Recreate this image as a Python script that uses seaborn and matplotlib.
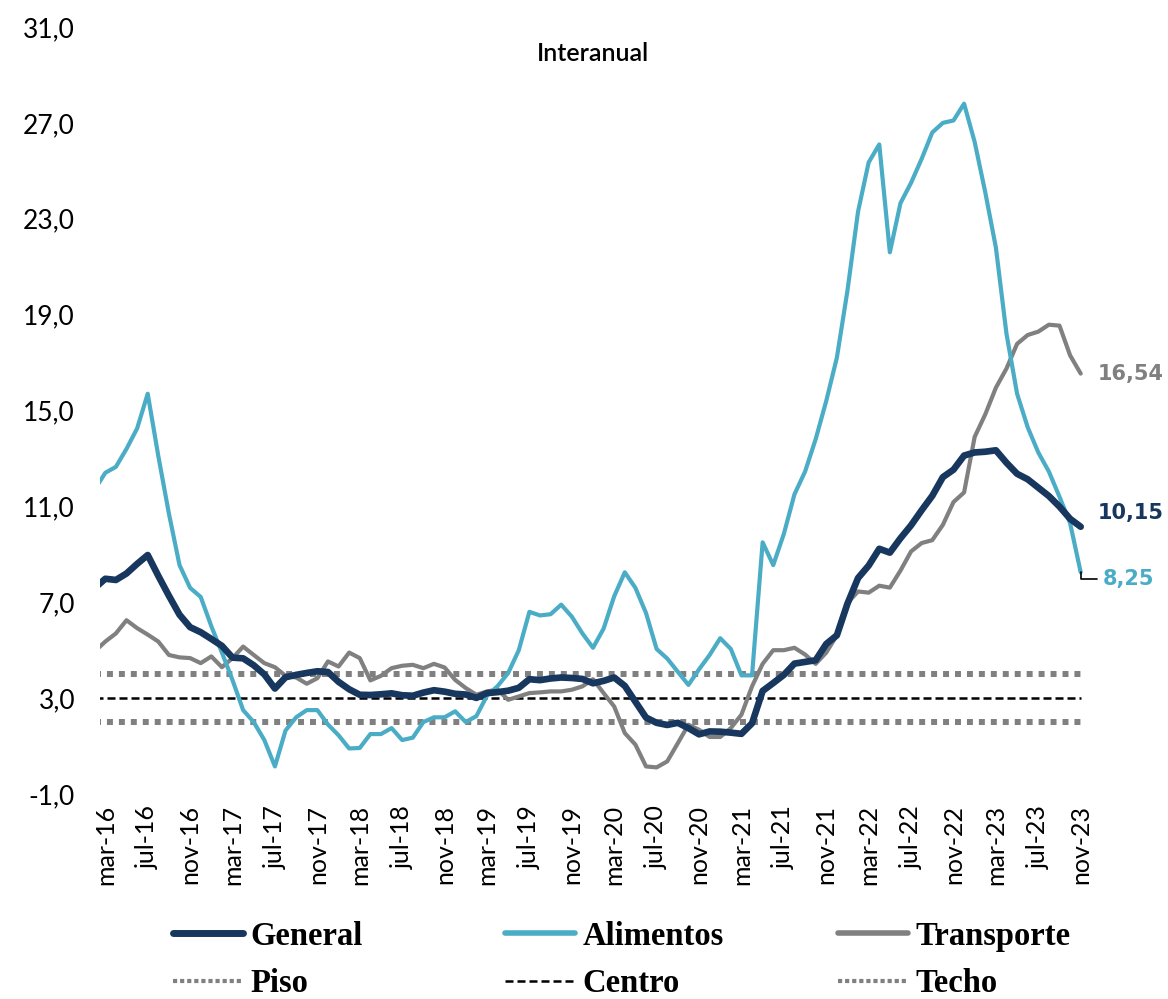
import numpy as np
import pandas as pd
import matplotlib
matplotlib.use('Agg')
import matplotlib.pyplot as plt
from matplotlib.lines import Line2D
import seaborn as sns

# Inflación anual (%) feb-16 .. nov-23
meses = ['ene', 'feb', 'mar', 'abr', 'may', 'jun', 'jul', 'ago', 'sep', 'oct', 'nov', 'dic']
fechas = pd.date_range('2016-02-01', '2023-11-01', freq='MS')
etiquetas = [f"{meses[d.month - 1]}-{d.strftime('%y')}" for d in fechas]

general = [7.59, 7.98, 7.93, 8.20, 8.60, 8.97, 8.10, 7.27, 6.48, 5.96, 5.75,
           5.47, 5.18, 4.69, 4.66, 4.37, 3.99, 3.40, 3.87, 3.97, 4.05, 4.12, 4.09,
           3.68, 3.37, 3.14, 3.13, 3.16, 3.20, 3.12, 3.10, 3.23, 3.33, 3.27, 3.18,
           3.15, 3.01, 3.21, 3.25, 3.31, 3.43, 3.79, 3.75, 3.82, 3.86, 3.84, 3.80,
           3.62, 3.72, 3.86, 3.51, 2.85, 2.19, 1.97, 1.88, 1.97, 1.75, 1.49, 1.61,
           1.60, 1.56, 1.51, 1.95, 3.30, 3.63, 3.97, 4.44, 4.51, 4.58, 5.26, 5.62,
           6.94, 8.01, 8.53, 9.23, 9.07, 9.67, 10.21, 10.84, 11.44, 12.22, 12.53, 13.12,
           13.25, 13.28, 13.34, 12.82, 12.36, 12.13, 11.78, 11.43, 10.99, 10.48, 10.15]

alimentos = [11.7, 12.4, 12.65, 13.4, 14.25, 15.7, 13.1, 10.7, 8.55, 7.6, 7.22,
             6.0, 4.9, 3.75, 2.5, 2.0, 1.25, 0.15, 1.65, 2.2, 2.5, 2.5, 1.9,
             1.45, 0.9, 0.92, 1.5, 1.5, 1.75, 1.25, 1.35, 2.0, 2.2, 2.2, 2.45,
             2.0, 2.25, 3.1, 3.5, 4.05, 5.0, 6.6, 6.45, 6.5, 6.9, 6.4, 5.7,
             5.1, 5.9, 7.25, 8.25, 7.6, 6.55, 5.05, 4.65, 4.1, 3.55, 4.2, 4.8,
             5.5, 5.05, 3.95, 3.95, 9.5, 8.55, 9.85, 11.5, 12.45, 13.8, 15.4, 17.2,
             20.0, 23.3, 25.35, 26.1, 21.6, 23.65, 24.5, 25.5, 26.6, 27.0, 27.1, 27.8,
             26.2, 24.1, 21.8, 18.2, 15.7, 14.3, 13.25, 12.45, 11.4, 10.3, 8.25]

transporte = [4.95, 5.36, 5.7, 6.25, 5.92, 5.65, 5.36, 4.8, 4.7, 4.67, 4.46,
              4.74, 4.29, 4.67, 5.15, 4.8, 4.46, 4.29, 3.93, 3.86, 3.6, 3.83, 4.53,
              4.32, 4.9, 4.67, 3.74, 3.93, 4.25, 4.35, 4.39, 4.25, 4.43, 4.28, 3.76,
              3.42, 3.14, 3.28, 3.35, 2.93, 3.07, 3.21, 3.24, 3.28, 3.28, 3.35, 3.49,
              3.79, 3.21, 2.65, 1.54, 1.06, 0.15, 0.11, 0.36, 1.12, 1.89, 1.68, 1.38,
              1.38, 1.75, 2.31, 3.49, 4.43, 5.0, 5.0, 5.1, 4.82, 4.43, 4.9, 5.62,
              6.97, 7.45, 7.4, 7.69, 7.61, 8.32, 9.12, 9.47, 9.59, 10.23, 11.18, 11.58,
              13.9, 14.84, 15.95, 16.75, 17.78, 18.15, 18.29, 18.58, 18.54, 17.3, 16.54]

piso, centro, techo = 2.0, 3.0, 4.0

df = pd.DataFrame({'pos': np.arange(len(fechas)), 'General': general,
                   'Alimentos': alimentos, 'Transporte': transporte})
df['Piso'] = piso
df['Centro'] = centro
df['Techo'] = techo

sns.set_style('white')
plt.rcParams['font.family'] = ['Lato', 'DejaVu Sans']

c_gen = '#17375E'
c_ali = '#4BACC6'
c_tra = '#808080'

fig = plt.figure(figsize=(11.68, 9.99), dpi=100)
ax = fig.add_axes([100 / 1168, 205 / 999, 986 / 1168, 767 / 999])

dot = (0, (1, 1))
dash = (0, (3.2, 1.6))
sns.lineplot(data=df, x='pos', y='Piso', ax=ax, color=c_tra, lw=4.3, linestyle=dot)
sns.lineplot(data=df, x='pos', y='Techo', ax=ax, color=c_tra, lw=4.3, linestyle=dot)
sns.lineplot(data=df, x='pos', y='Centro', ax=ax, color='black', lw=1.8, linestyle=dash)
sns.lineplot(data=df, x='pos', y='Transporte', ax=ax, color=c_tra, lw=3.0,
             solid_joinstyle='round', solid_capstyle='round')
sns.lineplot(data=df, x='pos', y='Alimentos', ax=ax, color=c_ali, lw=3.0,
             solid_joinstyle='round', solid_capstyle='round')
sns.lineplot(data=df, x='pos', y='General', ax=ax, color=c_gen, lw=4.8,
             solid_joinstyle='round', solid_capstyle='round')

ax.set_xlim(0.5, len(fechas) - 0.5)
ax.set_ylim(-1, 31)
yt = np.arange(-1, 32, 4)
ax.set_yticks(yt)
ax.set_yticklabels([f'{v:.1f}'.replace('.', ',') for v in yt], fontsize=19)
xt = list(range(1, len(fechas), 4))
ax.set_xticks(xt)
ax.set_xticklabels([etiquetas[i] for i in xt], rotation=90, fontsize=18)
ax.tick_params(axis='y', length=0, pad=18, labelcolor='black')
ax.tick_params(axis='x', length=0, pad=8, labelcolor='black')
ax.set_xlabel('')
ax.set_ylabel('')
sns.despine(ax=ax, left=True, bottom=True)

ax.text(0.5, 0.966, 'Interanual', transform=ax.transAxes, ha='center', va='center',
        fontsize=18, fontweight='semibold', color='black')

# etiquetas del ultimo dato
last = len(fechas) - 1
ax.annotate(f'{transporte[-1]:.2f}'.replace('.', ','), xy=(last, transporte[-1]),
            xytext=(12, 0), textcoords='offset points', va='center', ha='left',
            fontsize=15, fontweight='bold', color=c_tra, family='DejaVu Sans')
ax.annotate(f'{general[-1]:.2f}'.replace('.', ','), xy=(last, general[-1]),
            xytext=(12, 10), textcoords='offset points', va='center', ha='left',
            fontsize=15, fontweight='bold', color=c_gen, family='DejaVu Sans')
ax.annotate(f'{alimentos[-1]:.2f}'.replace('.', ','), xy=(last, alimentos[-1]),
            xytext=(16, -4.5), textcoords='offset points', va='center', ha='left',
            fontsize=15, fontweight='bold', color=c_ali, family='DejaVu Sans',
            arrowprops=dict(arrowstyle='-', color='black', lw=1.2, shrinkA=2, shrinkB=0,
                            connectionstyle='angle,angleA=0,angleB=90,rad=0'))

# leyenda en tres columnas
dot_leg = (0, (1, 0.7))
grupos = [
    (173, [Line2D([], [], color=c_gen, lw=5.0, solid_capstyle='round'),
           Line2D([], [], color=c_tra, lw=3.0, linestyle=dot_leg)], ['General', 'Piso']),
    (505, [Line2D([], [], color=c_ali, lw=4.0, solid_capstyle='round'),
           Line2D([], [], color='black', lw=1.8, linestyle=dash)], ['Alimentos', 'Centro']),
    (838, [Line2D([], [], color=c_tra, lw=4.0, solid_capstyle='round'),
           Line2D([], [], color=c_tra, lw=3.0, linestyle=dot_leg)], ['Transporte', 'Techo']),
]
for x0, hs, labs in grupos:
    fig.legend(hs, labs, loc='center left', bbox_to_anchor=(x0 / 1168, 39 / 999),
               frameon=False, borderpad=0, borderaxespad=0, handlelength=2.15,
               handletextpad=0.22, labelspacing=0.5, labelcolor='black',
               prop={'family': ['Liberation Serif'], 'weight': 'bold', 'size': 23.5})

fig.savefig('out.png', dpi=100)
